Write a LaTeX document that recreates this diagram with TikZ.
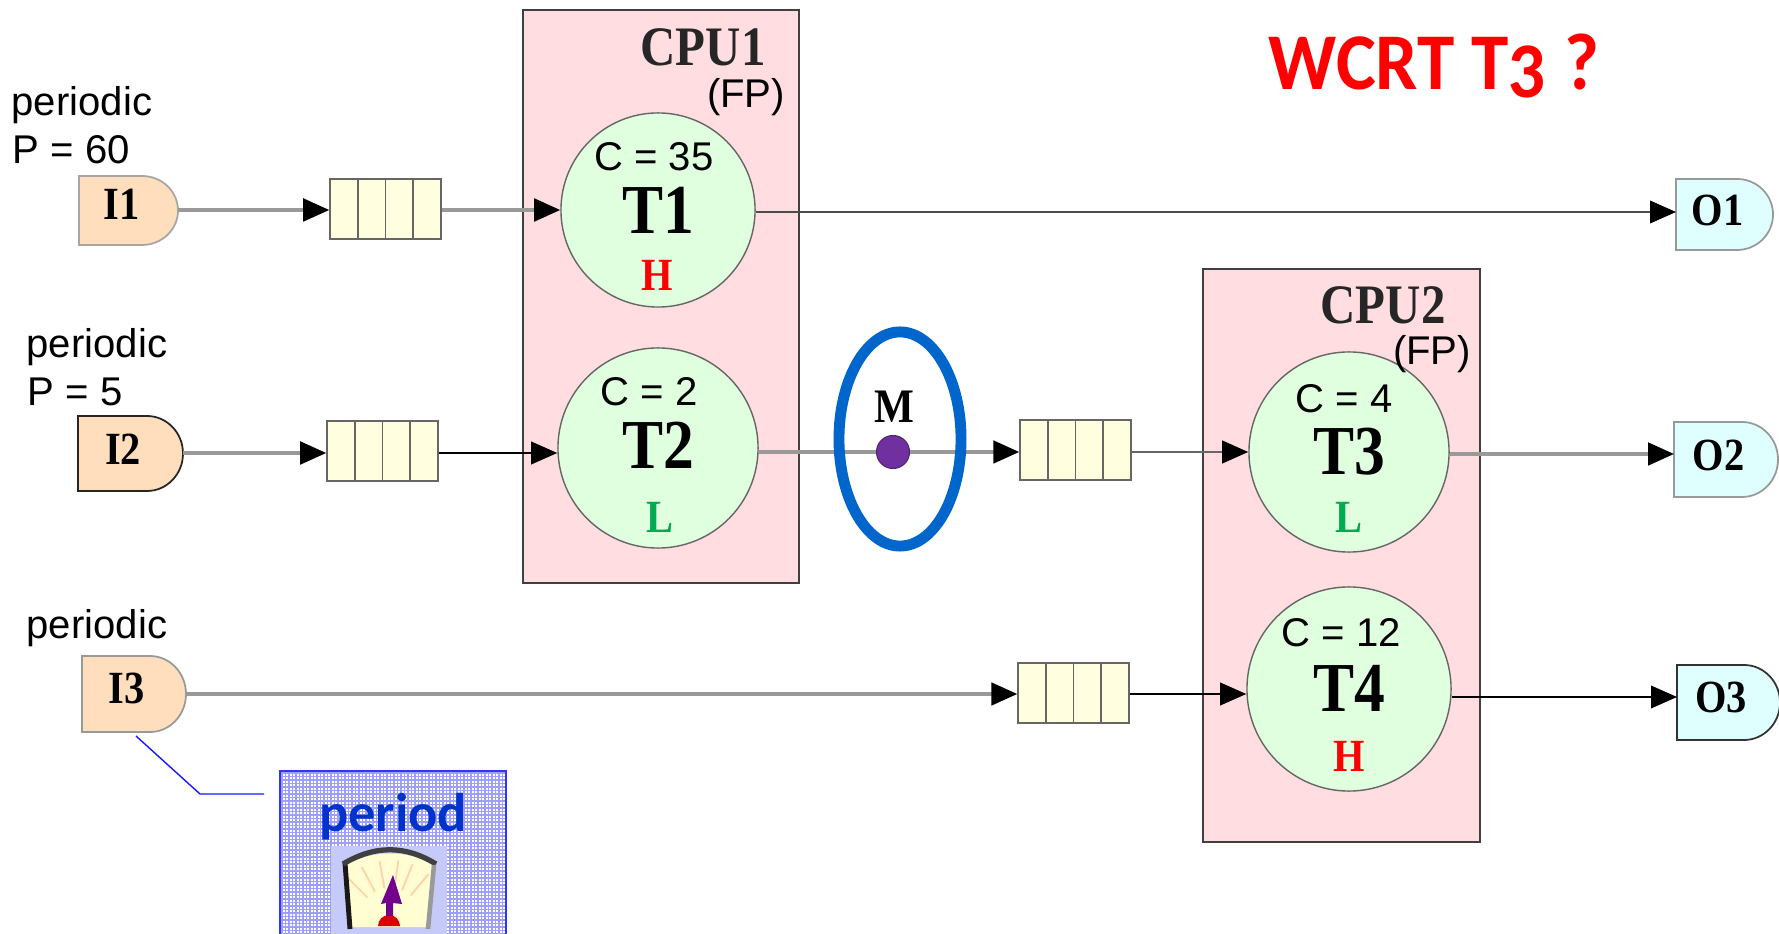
\documentclass[tikz,border=0pt]{standalone}
\usepackage{fontspec}
\setmainfont{Liberation Serif}
\setsansfont{Liberation Sans}
\newfontfamily\titlefont[Numbers=OldStyle]{Carlito}
\usepackage{xcolor}
\usetikzlibrary{shapes.geometric, arrows.meta, positioning}

\definecolor{cpupink}{RGB}{255,221,224}
\definecolor{taskgreen}{RGB}{223,255,223}
\definecolor{inorange}{RGB}{255,222,189}
\definecolor{outcyan}{RGB}{223,255,255}
\definecolor{queuecream}{RGB}{255,255,223}
\definecolor{lowgreen}{RGB}{0,170,80}
\definecolor{ringblue}{RGB}{0,102,204}
\definecolor{dotpurple}{RGB}{112,48,160}
\definecolor{meterblue}{RGB}{198,202,248}
\definecolor{periodblue}{RGB}{0,51,204}

\newcommand{\tall}[1]{\scalebox{1}[1.14]{#1}}

\begin{document}
\begin{tikzpicture}[x=0.01cm, y=-0.01cm,
        cpu/.style={rectangle, draw=black!75, fill=cpupink, line width=0.6pt, minimum width=2.76cm, minimum height=5.73cm, inner sep=0pt},
        task/.style={circle, draw=black!60, fill=taskgreen, line width=0.4pt, inner sep=0pt},
        queue/.style={rectangle, draw=black!60, fill=queuecream, line width=0.4pt, minimum width=1.11cm, minimum height=0.6cm, inner sep=0pt},
        wire/.style={-{Triangle[length=7.4pt, width=6.4pt, color=black]}, draw=black!40, line width=1pt},
        darkwire/.style={wire, draw=black, line width=0.6pt},
        tasklabel/.style={font=\fontsize{17.5}{17.5}\selectfont\bfseries},
        portlabel/.style={font=\fontsize{11.5}{11.5}\selectfont\bfseries},
        note/.style={font=\sffamily\fontsize{11.4}{11.4}\selectfont, inner sep=0pt},
        cpulabel/.style={font=\fontsize{13.9}{13.9}\selectfont\bfseries, text=black!85},
        prio/.style={font=\fontsize{11.5}{11.5}\selectfont\bfseries}
    ]
        \path[use as bounding box] (0,0) rectangle (1779,934);

        % processors
        \node[cpu] (CPUa) at (661,296.5) {};
        \node[cpu] (CPUb) at (1341.5,555.5) {};
        \node[cpulabel] (CPUaname) at (703,47) {\tall{CPU1}};
        \node[cpulabel] (CPUbname) at (1383,305) {\tall{CPU2}};
        \node[note] (FPa) at (746,97) {(FP)};

        % tasks
        \node[task, minimum size=1.94cm] (T1) at (658,210) {};
        \node[task, minimum size=2.00cm] (T2) at (658,448) {};
        \node[task, minimum size=2.00cm] (T3) at (1349,452) {};
        \node[task, minimum size=2.04cm] (T4) at (1349,689) {};
        \node[note] (FPb) at (1432,354) {(FP)};
        \foreach \name/\cost/\dx/\dy/\ty in {T1/{C = 35}/-4/-53/0, T2/{C = 2}/-9/-56/-3, T3/{C = 4}/-5/-53/0, T4/{C = 12}/-8/-56/-1} {
            \node[note] (\name cost) at ([xshift=\dx*0.01cm, yshift=-\dy*0.01cm]\name) {\cost};
            \node[tasklabel] (\name text) at ([yshift=-\ty*0.01cm]\name) {\tall{\name}};
        }
        \node[prio, text=red] (T1prio) at (657,275) {\tall{H}};
        \node[prio, text=lowgreen] (T2prio) at (660,517) {\tall{L}};
        \node[prio, text=lowgreen] (T3prio) at (1349,517) {\tall{L}};
        \node[prio, text=red] (T4prio) at (1349,756) {\tall{H}};

        % inputs and outputs
        \foreach \name/\xa/\ya/\xb/\yb/\yl/\dy/\col/\edge in {I1/79/176/178/245/210/-6/inorange/35, I2/78/416/183/491/453/-4/inorange/85, I3/82/656/186/732/694/-6/inorange/40, O1/1676/179/1773/250/212/-4/outcyan/40, O2/1674/422/1778/497/454/-4/outcyan/40, O3/1677/665/1780/740/697/-5/outcyan/80} {
            \draw[draw=black!\edge, line width=0.5pt, fill=\col] (\xa,\ya) -- ({\xb-36},\ya) arc[start angle=-90, end angle=90, x radius=36, y radius={(\yb-\ya)/2}] -- (\xa,\yb) -- cycle;
            \node[portlabel] (\name) at ({\xa+0.43*(\xb-\xa)},{(\ya+\yb)/2+\dy}) {\tall{\name}};
            \coordinate (\name w) at (\xa,\yl);
            \coordinate (\name e) at (\xb,\yl);
        }

        % queues
        \foreach \name/\xq/\yq in {Qa/385.5/209, Qb/382.5/451, Qc/1075.5/450, Qd/1073.5/693} {
            \node[queue] (\name) at (\xq,\yq) {};
            \foreach \k in {-27.75,0,27.75}
                \draw[draw=black!60, line width=0.5pt] (\xq+\k,\yq-30) -- (\xq+\k,\yq+30);
        }

        % message
        \node[circle, fill=dotpurple, draw=dotpurple!70!black, line width=0.3pt, minimum size=0.33cm, inner sep=0pt] (msg) at (893,452) {};
        \node[font=\fontsize{12}{12}\selectfont\bfseries] (msgname) at (894,407) {\tall{M}};

        % connections
        \draw[wire] (I1e) -- (I1e -| Qa.west);
        \draw[wire] (I1e -| Qa.east) -- (I1e -| T1.west);
        \draw[wire, draw=black!70, line width=0.6pt] (O1w -| T1.east) -- (O1w);
        \draw[wire] (I2e) -- (I2e -| Qb.west);
        \draw[darkwire] (I2e -| Qb.east) -- (I2e -| T2.west);
        \draw[draw=black!40, line width=1pt] (T2.east |- msg) -- (msg);
        \draw[wire] (msg) -- (msg -| Qc.west);
        \draw[wire, draw=black!60, line width=0.7pt] (msg -| Qc.east) -- (msg -| T3.west);
        \draw[wire] (O2w -| T3.east) -- (O2w);
        \draw[wire] (I3e) -- (I3e -| Qd.west);
        \draw[darkwire] (I3e -| Qd.east) -- (I3e -| T4.west);
        \draw[darkwire] (O3w -| T4.east) -- (O3w);

        \node[draw=ringblue, line width=3.1pt, ellipse, minimum width=1.22cm, minimum height=2.14cm, inner sep=0pt] (ring) at (900,439) {};

        % source notes
        \node[note, anchor=west] (noteA) at (11,105) {periodic};
        \node[note, anchor=west] (noteB) at (12,150) {P = 60};
        \node[note, anchor=west] (noteC) at (26,347) {periodic};
        \node[note, anchor=west] (noteD) at (27,392) {P = 5};
        \node[note, anchor=west] (noteE) at (26,628) {periodic};

        % callout
        \foreach \lx in {282,285.5,...,506}
            \draw[blue!38, line width=0.3pt] (\lx,771) -- (\lx,934);
        \foreach \ly in {773,776.5,...,934}
            \draw[blue!38, line width=0.3pt] (280,\ly) -- (506,\ly);
        \draw[blue!80, line width=0.5pt] (280,934) -- (280,771) -- (506,771) -- (506,934);
        \coordinate (calloutA) at (136,736);
        \coordinate (calloutB) at (200,794);
        \coordinate (calloutC) at (264,794);
        \draw[blue!90, line width=0.4pt] (calloutA) -- (calloutB) -- (calloutC);
        \node[text=periodblue, font=\titlefont\bfseries\fontsize{15.5}{15.5}\selectfont, inner sep=0pt] (periodtext) at (393,817) {period};

        % meter
        \fill[meterblue] (331,846) rectangle (447,934);
        \fill[yellow!18] (347,864) .. controls (375,850) and (405,850) .. (434,864) -- (427,927) -- (352,927) -- cycle;
        \foreach \ang in {50,68,82,100,118,135} {
            \draw[orange!35, line width=0.5pt] ({390+32*cos(\ang)},{920-32*sin(\ang)}) -- ({390+60*cos(\ang)},{920-60*sin(\ang)});
        }
        \draw[black!90, line width=1.4pt] (350,929) -- (345,863);
        \draw[black!75, line width=1.5pt] (343,864) .. controls (375,845) and (405,845) .. (436,864);
        \draw[black!40, line width=1.3pt] (434,865) -- (428,929);
        \fill[red!85!black] (378,926) arc[start angle=180, end angle=360, radius=11] -- cycle;
        \fill[violet!90!blue] (386,916) -- (386,903) -- (381,904) -- (393,875) -- (402,904) -- (393,903) -- (393,916) -- cycle;

        % question
        \node[anchor=west, text=red, font=\titlefont\bfseries\fontsize{21.4}{21.4}\selectfont, inner sep=0pt] (question) at (1268,66) {\scalebox{1}[1.07]{WCRT T3 ?}};
    \end{tikzpicture}
\end{document}
